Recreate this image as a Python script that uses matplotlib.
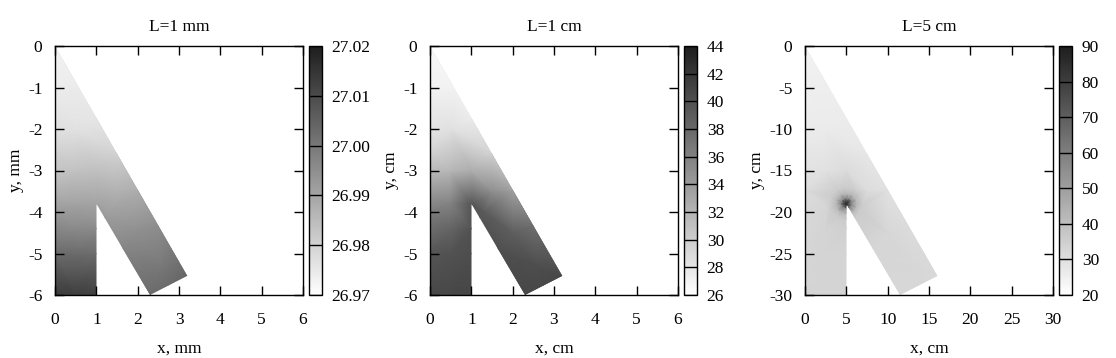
import numpy as np
import matplotlib
matplotlib.use("Agg")
import matplotlib.pyplot as plt
import matplotlib.tri as mtri
from matplotlib.patches import Polygon
from matplotlib.colors import LinearSegmentedColormap, Normalize
from matplotlib.cm import ScalarMappable
from matplotlib.ticker import FormatStrFormatter, MultipleLocator

plt.rcParams['font.family'] = ['Liberation Serif', 'DejaVu Serif']
plt.rcParams['axes.unicode_minus'] = False

# ---------------- data ----------------
titles = ["L=1 mm", "L=1 cm", "L=5 cm"]
x_labels = ["x, mm", "x, cm", "x, cm"]
y_labels = ["y, mm", "y, cm", "y, cm"]
scale = [1, 1, 5]                      # domain size factor (base domain is 6 x 6)
axis_step = [1, 1, 5]
cbar_ranges = [(26.97, 27.02), (26.0, 44.0), (20.0, 90.0)]
cbar_steps = [0.01, 2, 10]
cbar_formats = ['%.2f', '%d', '%d']

# domain outline (base units)
outline_x = [0.0, 0.0, 1.0, 1.0, 2.3, 3.2]
outline_y = [0.0, -6.0, -6.0, -3.8, -6.0, -5.54]

# field sample nodes (base units)
node_x = [0.0, 0.0, 0.0, 0.0, 0.0, 0.0, 0.0, 0.0, 0.0,
          0.577, 1.0, 1.5, 2.0, 2.5, 3.2,
          0.5, 0.5, 0.5, 0.5, 0.5,
          1.0, 1.0, 1.0, 1.0,
          1.65, 2.3, 1.5, 2.0, 2.6, 2.75,
          0.5, 1.0, 1.3]
node_y = [0.0, -1.0, -2.0, -2.5, -3.0, -3.5, -4.0, -5.0, -6.0,
          -1.0, -1.732, -2.598, -3.464, -4.33, -5.54,
          -2.0, -3.0, -3.8, -5.0, -6.0,
          -3.0, -3.8, -5.0, -6.0,
          -4.9, -6.0, -3.5, -4.5, -5.3, -5.77,
          -4.4, -4.4, -4.0]

val_1mm = [26.9725, 26.974, 26.977, 26.980, 26.983, 26.987, 26.9925, 27.003, 27.0135,
           26.9745, 26.9755, 26.980, 26.988, 26.995, 27.004,
           26.9765, 26.9835, 26.9905, 27.003, 27.013,
           26.984, 26.9905, 27.0025, 27.0125,
           26.997, 27.003, 26.987, 26.995, 27.000, 27.003,
           26.996, 26.996, 26.991]
val_1cm = [26.5, 27.0, 28.2, 29.4, 31.5, 34.0, 36.5, 39.6, 40.6,
           27.1, 27.6, 29.6, 33.4, 37.5, 40.6,
           28.4, 31.8, 36.0, 39.8, 40.7,
           32.5, 39.5, 40.2, 40.8,
           40.0, 40.7, 35.0, 38.8, 40.2, 40.6,
           38.3, 39.8, 39.2]
val_5cm = [24.0, 25.0, 26.2, 27.5, 29.0, 30.5, 32.0, 33.0, 33.5,
           25.2, 25.8, 27.5, 29.5, 31.0, 32.0,
           26.5, 29.5, 33.0, 33.5, 33.5,
           31.0, 90.0, 33.5, 33.5,
           33.0, 32.5, 31.0, 32.5, 32.5, 32.5,
           33.5, 34.5, 35.0]

# extra sample rings around the re-entrant corner (L=5 cm panel only)
corner_xy = (1.0, -3.8)
ring_radii = [0.05, 0.12, 0.24, 0.38]
ring_angles_deg = [-60, -40, -20, 0, 20, 40, 60, 80, 100, 120, 140, 160,
                   180, 200, 220, 240, 260, 270]
ring_val_5cm = [80.0, 57.0, 42.0, 36.0]

values = [val_1mm, val_1cm, val_5cm]

# ---------------- figure ----------------
W, H = 1116, 358
fig = plt.figure(figsize=(W / 100, H / 100), dpi=100)
cmap = LinearSegmentedColormap.from_list('gray_neg', ['#ffffff', '#1e1e1e'])

ax_left = [55, 430, 805]
cb_left = [309, 684, 1059]
ax_w, ax_top, ax_bot = 248, 46, 295
cb_w = 13
fs = 12.5

for i in range(3):
    s = scale[i]
    ax = fig.add_axes([ax_left[i] / W, (H - ax_bot) / H, ax_w / W, (ax_bot - ax_top) / H])
    xs = list(np.array(node_x) * s)
    ys = list(np.array(node_y) * s)
    vs = list(values[i])
    if i == 2:
        ang = np.deg2rad(ring_angles_deg)
        for r, rv in zip(ring_radii, ring_val_5cm):
            xs += list((corner_xy[0] + r * np.cos(ang)) * s)
            ys += list((corner_xy[1] + r * np.sin(ang)) * s)
            vs += [rv] * len(ang)
    tri = mtri.Triangulation(xs, ys)
    vmin, vmax = cbar_ranges[i]
    norm = Normalize(vmin=vmin, vmax=vmax)
    tpc = ax.tripcolor(tri, vs, shading='gouraud', cmap=cmap, norm=norm)
    poly = Polygon(np.column_stack([np.array(outline_x) * s, np.array(outline_y) * s]),
                   closed=True, transform=ax.transData)
    tpc.set_clip_path(poly)

    ax.set_xlim(0, 6 * s)
    ax.set_ylim(-6 * s, 0)
    ax.xaxis.set_major_locator(MultipleLocator(axis_step[i]))
    ax.yaxis.set_major_locator(MultipleLocator(axis_step[i]))
    ax.tick_params(direction='in', length=6.5, width=1, top=True, right=True,
                   labelsize=fs)
    ax.tick_params(axis='x', pad=12)
    ax.tick_params(axis='y', pad=9)
    for sp in ax.spines.values():
        sp.set_linewidth(1.0)
    ax.set_title(titles[i], fontsize=fs, pad=11)
    ax.set_xlabel(x_labels[i], fontsize=fs, labelpad=9)
    ax.set_ylabel(y_labels[i], fontsize=fs, labelpad=3)

    cax = fig.add_axes([cb_left[i] / W, (H - ax_bot) / H, cb_w / W, (ax_bot - ax_top) / H])
    sm = ScalarMappable(norm=norm, cmap=cmap)
    cb = fig.colorbar(sm, cax=cax)
    cb.outline.set_linewidth(1.0)
    ticks = np.arange(vmin, vmax + cbar_steps[i] / 2, cbar_steps[i])
    cb.set_ticks(ticks)
    cax.yaxis.set_major_formatter(FormatStrFormatter(cbar_formats[i]))
    cax.tick_params(length=0, labelsize=fs, pad=7)
    for t in ticks:
        cax.axhline(t, color='black', lw=1.0)

fig.savefig('out.png', dpi=100)
